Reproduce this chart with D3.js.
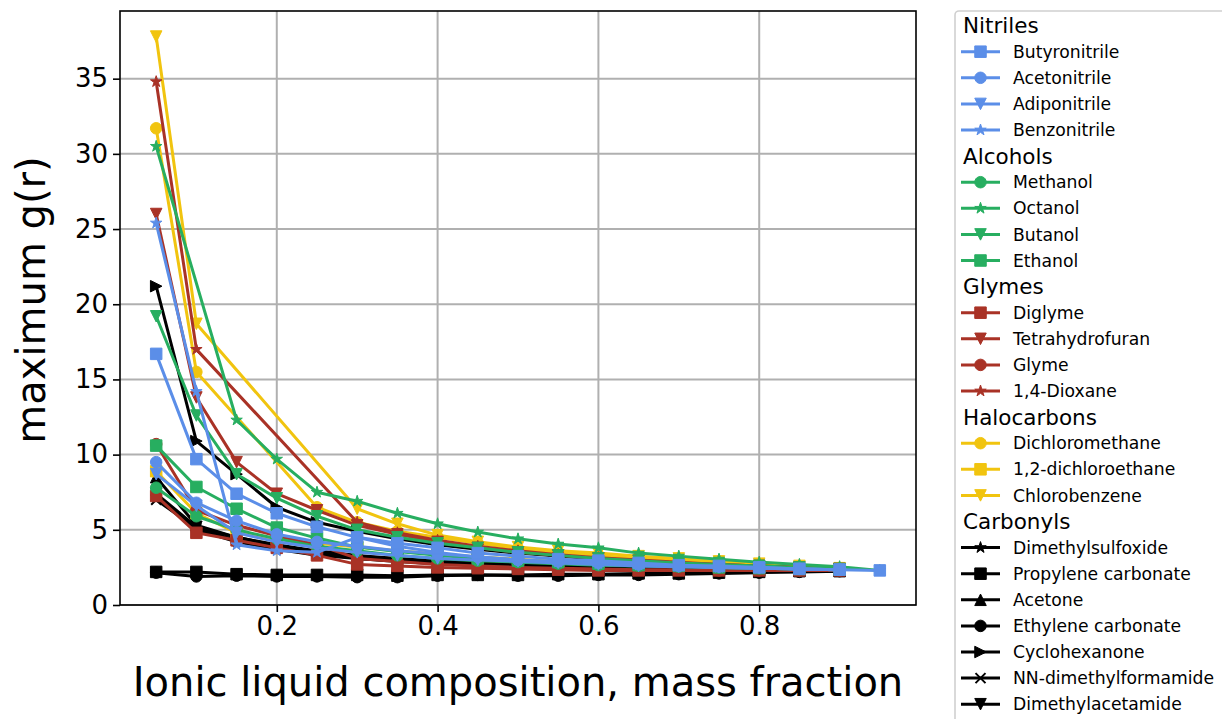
<!DOCTYPE html>
<html><head><meta charset="utf-8">
<script src="https://cdn.jsdelivr.net/npm/d3@7"></script>
<style>body{margin:0;background:#fff;} svg{display:block;font-family:"DejaVu Sans",sans-serif;}</style>
</head><body><svg id="chart" width="1222" height="719"></svg>
<script>
// ---------- DATA ----------
const xValues = [0.05,0.10,0.15,0.20,0.25,0.30,0.35,0.40,0.45,0.50,0.55,0.60,0.65,0.70,0.75,0.80,0.85,0.90,0.95];
const xTicks = [0.2,0.4,0.6,0.8];
const yTicks = [0,5,10,15,20,25,30,35];
const groupNames = ["Nitriles","Alcohols","Glymes","Halocarbons","Carbonyls"];
const groupColors = ["#5b8ee8","#27ae60","#a93226","#f1c40f","#000000"];

// Nitriles
const butyronitrile = [16.7,9.7,7.4,6.1,5.2,4.5,4.1,3.8,3.45,3.25,3.05,2.95,2.8,2.65,2.6,2.5,2.4,2.35,2.3];
const acetonitrile  = [9.5,6.8,5.6,4.7,4.2,3.9,3.6,3.4,3.2,3.0,2.9,2.8,2.7,2.6,2.55,2.5,2.4,2.35,null];
const adiponitrile  = [8.7,6.6,4.8,4.2,3.8,3.5,3.3,3.1,3.0,2.9,2.8,2.7,2.6,2.55,2.5,2.45,2.4,2.35,null];
const benzonitrile  = [25.4,14.2,4.0,3.6,3.5,4.5,3.9,3.5,3.2,3.0,2.85,2.75,2.65,2.6,2.5,2.45,2.4,2.35,null];
// Alcohols
const methanol = [7.8,5.9,5.0,4.4,3.9,3.6,3.3,3.1,2.95,2.85,2.75,2.65,2.6,2.55,2.5,2.45,2.4,2.35,null];
const octanol  = [30.5,null,12.3,9.7,7.5,6.9,6.1,5.4,4.85,4.4,4.05,3.8,3.45,3.25,3.05,2.85,2.7,2.55,2.3];
const butanol  = [19.2,12.6,8.7,7.1,5.9,5.0,4.5,4.1,3.8,3.5,3.3,3.1,2.95,2.8,2.7,2.6,2.5,2.4,null];
const ethanol  = [10.6,7.85,6.4,5.15,4.45,3.85,3.55,3.3,3.1,2.95,2.85,2.75,2.65,2.6,2.5,2.45,2.4,2.35,null];
// Glymes
const diglyme        = [7.25,4.8,4.3,3.8,3.3,2.7,2.6,2.5,2.45,2.4,2.35,2.3,2.3,2.3,2.3,2.3,2.3,2.3,null];
const tetrahydrofuran= [26.0,13.8,9.5,7.4,6.3,5.3,4.7,4.2,3.8,3.5,3.3,3.1,2.95,2.8,2.7,2.6,2.5,2.4,null];
const glyme          = [10.7,6.3,5.3,4.6,4.0,3.1,2.9,2.7,2.6,2.5,2.45,2.4,2.35,2.35,2.3,2.3,2.3,2.3,null];
const dioxane        = [34.8,17.0,null,null,null,5.5,4.8,4.3,3.9,3.6,3.35,3.15,3.0,2.85,2.7,2.6,2.5,2.4,null];
// Halocarbons
const dichloromethane  = [31.7,15.5,null,null,6.5,5.5,4.9,4.5,4.1,3.75,3.5,3.3,3.1,2.95,2.8,2.65,2.55,2.45,null];
const dichloroethane   = [8.9,6.1,4.8,4.4,4.1,3.85,3.6,3.4,3.2,3.05,2.9,2.8,2.7,2.6,2.55,2.5,2.4,2.35,null];
const chlorobenzene    = [37.8,18.7,null,null,null,6.4,5.4,4.65,4.2,3.85,3.6,3.45,3.25,3.1,2.9,2.75,2.6,2.45,null];
// Carbonyls
const dimethylsulfoxide   = [7.2,5.0,4.2,3.7,3.3,3.1,2.95,2.8,2.7,2.6,2.55,2.5,2.45,2.4,2.35,2.35,2.3,2.3,null];
const propyleneCarbonate  = [2.2,2.2,2.05,2.0,2.0,2.0,1.95,2.0,2.0,2.0,2.05,2.05,2.1,2.1,2.15,2.2,2.25,2.25,null];
const acetone             = [8.5,5.3,4.5,4.0,3.6,3.3,3.1,2.95,2.8,2.7,2.6,2.55,2.5,2.45,2.4,2.35,2.3,2.3,null];
const ethyleneCarbonate   = [2.15,1.9,1.95,1.9,1.9,1.85,1.85,1.95,2.0,1.95,1.95,2.0,2.0,2.05,2.1,2.15,2.2,2.25,null];
const cyclohexanone       = [21.2,10.9,8.7,6.5,5.5,4.9,4.4,4.0,3.7,3.45,3.25,3.05,2.9,2.75,2.65,2.55,2.45,2.4,null];
const dimethylformamide   = [7.0,5.1,4.3,3.8,3.4,3.1,2.9,2.75,2.65,2.55,2.5,2.45,2.4,2.35,2.35,2.3,2.3,2.3,null];
const dimethylacetamide   = [7.4,5.2,4.5,3.95,3.5,3.2,3.0,2.85,2.7,2.6,2.55,2.5,2.45,2.4,2.35,2.35,2.3,2.3,null];

const seriesNames = [
  ["Butyronitrile","Acetonitrile","Adiponitrile","Benzonitrile"],
  ["Methanol","Octanol","Butanol","Ethanol"],
  ["Diglyme","Tetrahydrofuran","Glyme","1,4-Dioxane"],
  ["Dichloromethane","1,2-dichloroethane","Chlorobenzene"],
  ["Dimethylsulfoxide","Propylene carbonate","Acetone","Ethylene carbonate","Cyclohexanone","NN-dimethylformamide","Dimethylacetamide"]
];
const seriesMarkers = [
  ["s","o","v","*"],
  ["o","*","v","s"],
  ["s","v","o","*"],
  ["o","s","v"],
  ["*","s","^","o",">","x","v"]
];
const seriesValues = [
  [butyronitrile,acetonitrile,adiponitrile,benzonitrile],
  [methanol,octanol,butanol,ethanol],
  [diglyme,tetrahydrofuran,glyme,dioxane],
  [dichloromethane,dichloroethane,chlorobenzene],
  [dimethylsulfoxide,propyleneCarbonate,acetone,ethyleneCarbonate,cyclohexanone,dimethylformamide,dimethylacetamide]
];

// ---------- CHART ----------
const svg = d3.select("#chart");
const L = 120, R = 916, T = 11, B = 605;
const x = d3.scaleLinear().domain([0.005, 0.995]).range([L, R]);
const y = d3.scaleLinear().domain([0, 39.5]).range([B, T]);

svg.append("defs").append("clipPath").attr("id","clip")
  .append("rect").attr("x",L).attr("y",T).attr("width",R-L).attr("height",B-T);

// grid
const grid = svg.append("g");
grid.selectAll(".gx").data(xTicks).join("line")
  .attr("x1",d=>x(d)).attr("x2",d=>x(d)).attr("y1",T).attr("y2",B)
  .attr("stroke","#b0b0b0").attr("stroke-width",2);
grid.selectAll(".gy").data(yTicks).join("line")
  .attr("y1",d=>y(d)).attr("y2",d=>y(d)).attr("x1",L).attr("x2",R)
  .attr("stroke","#b0b0b0").attr("stroke-width",2);

// axes
const xAxis = d3.axisBottom(x).tickValues(xTicks).tickFormat(d3.format(".1f")).tickSize(7).tickPadding(5);
const yAxis = d3.axisLeft(y).tickValues(yTicks).tickFormat(d3.format("d")).tickSize(7).tickPadding(5);
const gx = svg.append("g").attr("transform",`translate(0,${B})`).call(xAxis);
const gy = svg.append("g").attr("transform",`translate(${L},0)`).call(yAxis);
[gx,gy].forEach(g=>{
  g.select(".domain").remove();
  g.selectAll(".tick line").attr("stroke","#000").attr("stroke-width",1.6);
  g.selectAll(".tick text").attr("font-size",26).attr("fill","#000").attr("font-family","DejaVu Sans");
});

function markerPath(type, ms){
  const h = ms/2;
  switch(type){
    case "s": return `M${-h},${-h}H${h}V${h}H${-h}Z`;
    case "o": return `M${h},0A${h},${h} 0 1,1 ${-h},0A${h},${h} 0 1,1 ${h},0Z`;
    case "v": return `M0,${h}L${-h},${-h}L${h},${-h}Z`;
    case "^": return `M0,${-h}L${-h},${h}L${h},${h}Z`;
    case ">": return `M${h},0L${-h},${-h}L${-h},${h}Z`;
    case "x": return `M${-h},${-h}L${h},${h}M${-h},${h}L${h},${-h}`;
    case "*": {
      const r = h*0.381966; let p = "";
      for(let i=0;i<10;i++){
        const a = -Math.PI/2 + i*Math.PI/5;
        const rr = i%2===0 ? h : r;
        p += (i===0?"M":"L") + (rr*Math.cos(a)).toFixed(2) + "," + (rr*Math.sin(a)).toFixed(2);
      }
      return p+"Z";
    }
  }
}
function markerSize(type){ return type==="*" ? 12 : (type==="x" ? 10 : 11.5); }

// build series list (legend order)
const series = [];
groupNames.forEach((g,gi)=>{
  seriesNames[gi].forEach((n,si)=>{
    series.push({name:n, group:gi, color:groupColors[gi], marker:seriesMarkers[gi][si], values:seriesValues[gi][si]});
  });
});

const line = d3.line().x(d=>x(d[0])).y(d=>y(d[1]));
const plot = svg.append("g").attr("clip-path","url(#clip)");
series.slice().reverse().forEach(s=>{
  const pts = xValues.map((xv,i)=>[xv,s.values[i]]).filter(p=>p[1]!==null);
  const g = plot.append("g");
  g.append("path").datum(pts).attr("d",line).attr("fill","none")
    .attr("stroke",s.color).attr("stroke-width",3).attr("stroke-linejoin","round");
  g.selectAll("path.m").data(pts).join("path").attr("class","m")
    .attr("transform",d=>`translate(${x(d[0])},${y(d[1])})`)
    .attr("d",markerPath(s.marker, markerSize(s.marker)))
    .attr("fill", s.marker==="x" ? "none" : s.color)
    .attr("stroke", s.color).attr("stroke-width", s.marker==="x" ? 2 : 1);
});

// frame
svg.append("rect").attr("x",L).attr("y",T).attr("width",R-L).attr("height",B-T)
  .attr("fill","none").attr("stroke","#000").attr("stroke-width",1.6);

// axis labels
svg.append("text").attr("x",(L+R)/2).attr("y",696).attr("text-anchor","middle")
  .attr("font-size",40).attr("fill","#000").text("Ionic liquid composition, mass fraction");
svg.append("text").attr("transform",`translate(45,300) rotate(-90)`).attr("text-anchor","middle")
  .attr("font-size",40).attr("fill","#000").text("maximum g(r)");

// legend
const lg = svg.append("g");
lg.append("rect").attr("x",955).attr("y",11).attr("width",300).attr("height",740).attr("rx",4)
  .attr("fill","#fff").attr("stroke","#d0d0d0").attr("stroke-width",1.6);
let row = 0;
const rowY = r => 25.6 + r*26.1;
groupNames.forEach((g,gi)=>{
  lg.append("text").attr("x",963).attr("y",rowY(row)).attr("dy","0.36em")
    .attr("font-size",21.5).attr("fill","#000").text(g);
  row++;
  series.filter(s=>s.group===gi).forEach(s=>{
    const yy = rowY(row);
    lg.append("line").attr("x1",961).attr("x2",1000).attr("y1",yy).attr("y2",yy)
      .attr("stroke",s.color).attr("stroke-width",3);
    lg.append("path").attr("transform",`translate(980.5,${yy})`)
      .attr("d",markerPath(s.marker, markerSize(s.marker)))
      .attr("fill", s.marker==="x" ? "none" : s.color)
      .attr("stroke", s.color).attr("stroke-width", s.marker==="x" ? 2 : 1);
    lg.append("text").attr("x",1013).attr("y",yy).attr("dy","0.36em")
      .attr("font-size",17.2).attr("fill","#000").text(s.name);
    row++;
  });
});
</script></body></html>
